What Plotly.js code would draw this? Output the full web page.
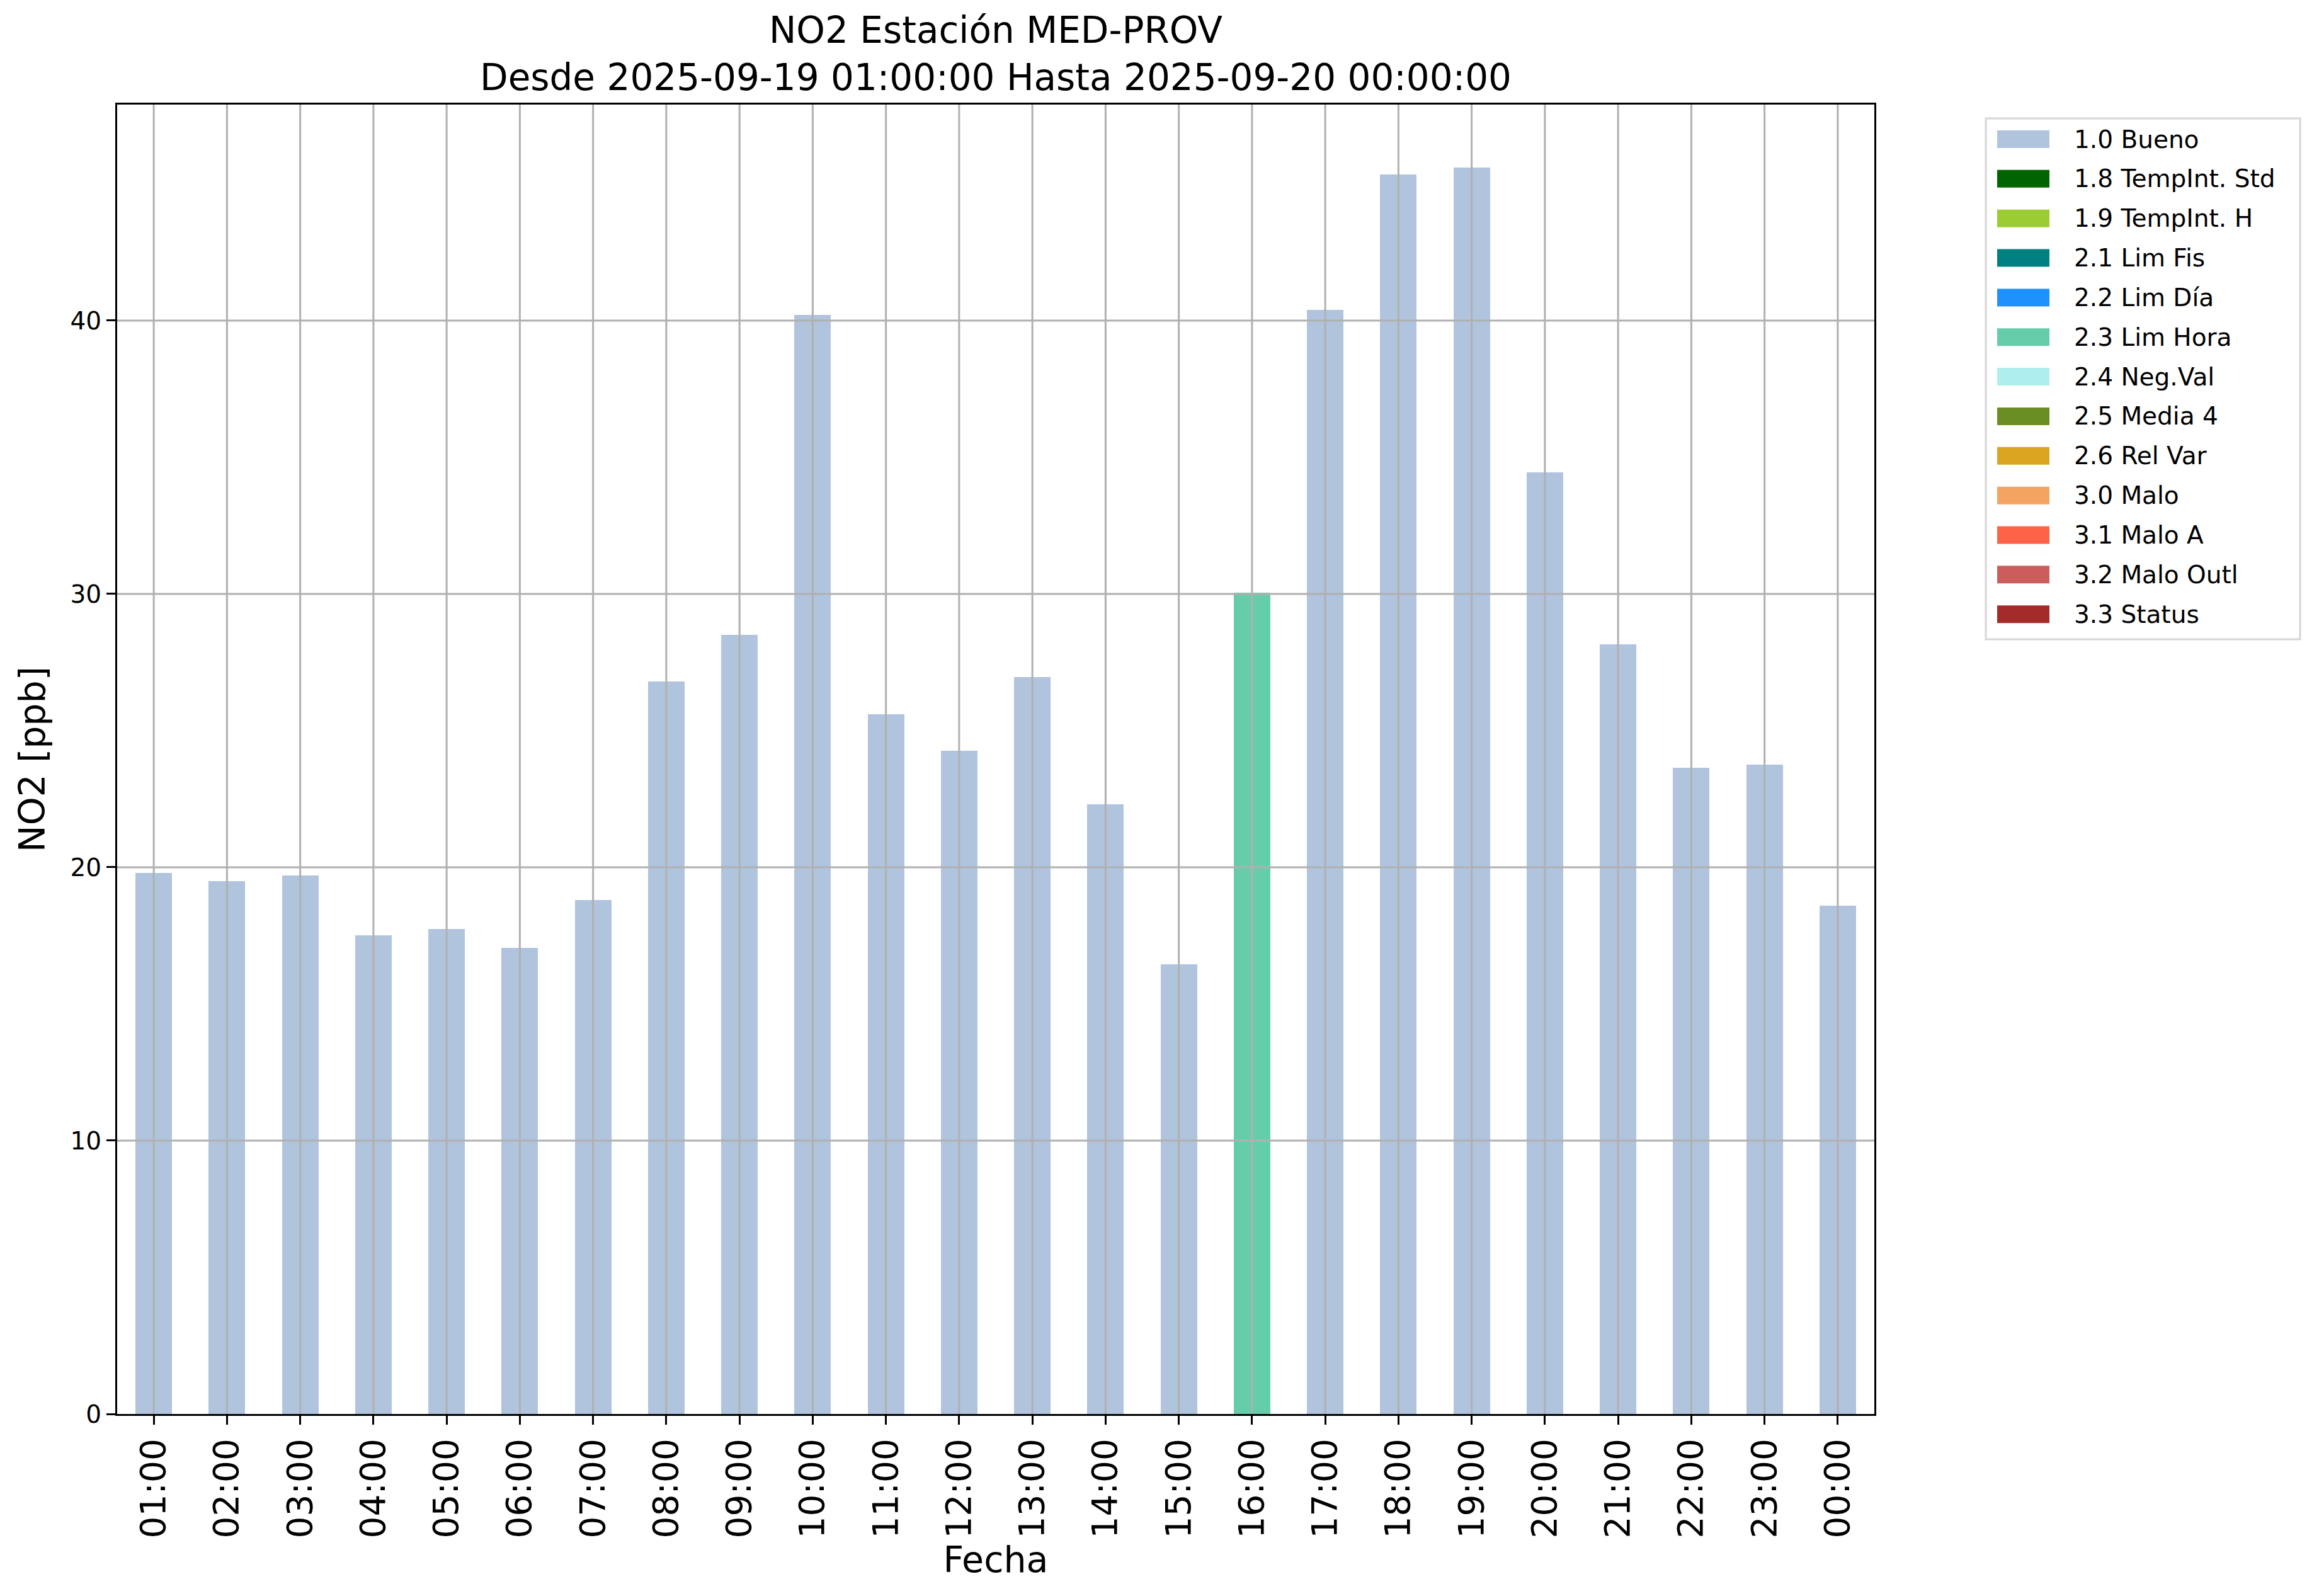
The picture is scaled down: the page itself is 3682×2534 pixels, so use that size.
<!DOCTYPE html>
<html>
<head>
<meta charset="utf-8">
<script src="https://cdn.plot.ly/plotly-3.0.1.min.js"></script>
<style>html,body{margin:0;padding:0;background:#fff;}</style>
</head>
<body>
<div id="chart" style="width:3682px;height:2534px;"></div>
<script>
// ---- data ----
const hours = ["01:00","02:00","03:00","04:00","05:00","06:00","07:00","08:00","09:00","10:00","11:00","12:00",
               "13:00","14:00","15:00","16:00","17:00","18:00","19:00","20:00","21:00","22:00","23:00","00:00"];
const no2 = [19.8, 19.5, 19.7, 17.5, 17.75, 17.05, 18.8, 26.8, 28.5, 40.2, 25.6, 24.25,
             26.95, 22.3, 16.45, 30.05, 40.4, 45.35, 45.6, 34.45, 28.15, 23.65, 23.75, 18.6];
const hourFlags = ["1.0 Bueno","1.0 Bueno","1.0 Bueno","1.0 Bueno","1.0 Bueno","1.0 Bueno","1.0 Bueno","1.0 Bueno",
                   "1.0 Bueno","1.0 Bueno","1.0 Bueno","1.0 Bueno","1.0 Bueno","1.0 Bueno","1.0 Bueno","2.3 Lim Hora",
                   "1.0 Bueno","1.0 Bueno","1.0 Bueno","1.0 Bueno","1.0 Bueno","1.0 Bueno","1.0 Bueno","1.0 Bueno"];
const flagNames = ["1.0 Bueno","1.8 TempInt. Std","1.9 TempInt. H","2.1 Lim Fis","2.2 Lim Día","2.3 Lim Hora",
                   "2.4 Neg.Val","2.5 Media 4","2.6 Rel Var","3.0 Malo","3.1 Malo A","3.2 Malo Outl","3.3 Status"];
const flagColors = ["#B0C4DE","#006400","#9ACD32","#008080","#1E90FF","#66CDAA",
                    "#AFEEEE","#6B8E23","#DAA520","#F4A460","#FF6347","#CD5C5C","#A52A2A"];
const yTicks = [0, 10, 20, 30, 40];
const titleLines = ["NO2 Estación MED-PROV", "Desde 2025-09-19 01:00:00 Hasta 2025-09-20 00:00:00"];

// ---- geometry helpers (layout only) ----
const W = 3682, H = 2534;
const M = {l: 186, r: 706, t: 166, b: 289};
const PW = W - M.l - M.r, PH = H - M.t - M.b;
const px2x = p => (p - M.l) / PW;
const px2y = p => (H - M.b - p) / PH;
const FONT = "DejaVu Sans";
const GRID = "#b0b0b0";

// ---- traces: one per flag, stacked ----
const traces = flagNames.map((f, k) => ({
  type: "bar",
  name: f,
  x: hours,
  y: no2.map((v, i) => hourFlags[i] === f ? v : null),
  width: 0.5,
  marker: {color: flagColors[k], line: {width: 0}},
  showlegend: false,
  hoverinfo: "x+y+name"
}));

// ---- gridlines drawn above bars (as in the reference) ----
const shapes = [];
hours.forEach((h, i) => shapes.push({
  type: "line", layer: "above", xref: "x", yref: "paper",
  x0: i, x1: i, y0: 0, y1: 1, line: {color: GRID, width: 3}
}));
yTicks.filter(v => v > 0).forEach(v => shapes.push({
  type: "line", layer: "above", xref: "paper", yref: "y",
  x0: 0, x1: 1, y0: v, y1: v, line: {color: GRID, width: 3}
}));

// ---- legend (patches + labels built from the flag arrays) ----
const annotations = [];
const LG = {left: 3153, right: 3652, top: 188, bottom: 1015, first: 221, step: 62.85,
            pl: 3171, pr: 3254, ph: 28, tx: 3291};
shapes.push({type: "rect", layer: "above", xref: "paper", yref: "paper",
  x0: px2x(LG.left), x1: px2x(LG.right), y0: px2y(LG.bottom), y1: px2y(LG.top),
  line: {color: "#d6d6d6", width: 3}, fillcolor: "rgba(255,255,255,0.8)"});
flagNames.forEach((f, k) => {
  const cy = LG.first + LG.step * k;
  shapes.push({type: "rect", layer: "above", xref: "paper", yref: "paper",
    x0: px2x(LG.pl), x1: px2x(LG.pr), y0: px2y(cy + LG.ph / 2), y1: px2y(cy - LG.ph / 2),
    line: {width: 0}, fillcolor: flagColors[k]});
  annotations.push({xref: "paper", yref: "paper", x: px2x(LG.tx), y: px2y(cy),
    xanchor: "left", yanchor: "middle", showarrow: false, text: f,
    font: {family: FONT, size: 39, color: "#000"}});
});

const layout = {
  width: W, height: H,
  margin: M,
  paper_bgcolor: "#fff", plot_bgcolor: "#fff",
  font: {family: FONT, color: "#000"},
  barmode: "stack",
  showlegend: false,
  title: {
    text: titleLines.join("<br>"),
    font: {family: FONT, size: 58, color: "#000"},
    x: 0.5, xref: "paper", xanchor: "center",
    y: 1 - 68 / H, yref: "container", yanchor: "top"
  },
  xaxis: {
    type: "category",
    range: [-0.5, hours.length - 0.5],
    tickangle: -90,
    tickfont: {family: FONT, size: 55, color: "#000"},
    ticks: "outside", ticklen: 14, tickwidth: 3, tickcolor: "#000",
    showline: true, linecolor: "#000", linewidth: 3, mirror: true,
    showgrid: false, zeroline: false, layer: "above traces",
    title: {text: "Fecha", font: {family: FONT, size: 57, color: "#000"}, standoff: 6}
  },
  yaxis: {
    range: [0, 47.9],
    tickvals: yTicks,
    tickfont: {family: FONT, size: 39, color: "#000"},
    ticks: "outside", ticklen: 14, tickwidth: 3, tickcolor: "#000",
    showline: true, linecolor: "#000", linewidth: 3, mirror: true,
    showgrid: false, zeroline: false, layer: "above traces",
    title: {text: "NO2 [ppb]", font: {family: FONT, size: 57, color: "#000"}, standoff: 22}
  },
  shapes: shapes,
  annotations: annotations
};

Plotly.newPlot("chart", traces, layout, {displayModeBar: false, staticPlot: true});
</script>
</body>
</html>
